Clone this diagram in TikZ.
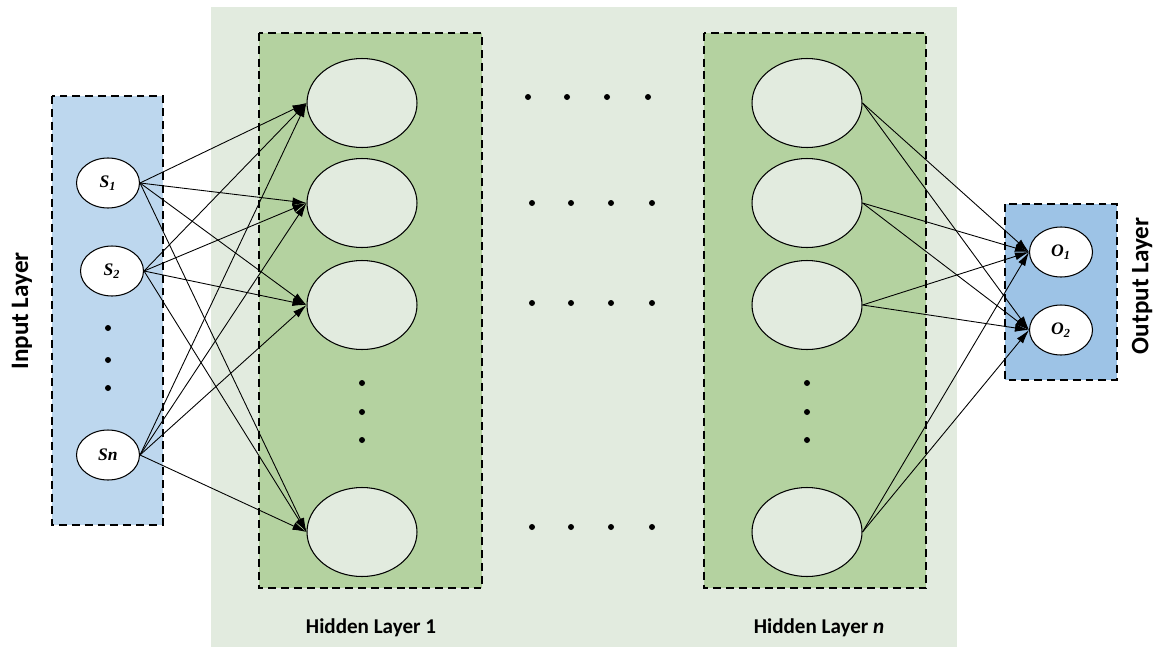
\documentclass[tikz,border=0pt]{standalone}
\usepackage{fontspec}
\setmainfont{Liberation Serif}
\newfontfamily\labelfont{Carlito}
\usetikzlibrary{arrows.meta,shapes.geometric}

\definecolor{panelgreen}{HTML}{E2EBDF}
\definecolor{hiddengreen}{HTML}{B4D2A0}
\definecolor{inputblue}{HTML}{BDD7EE}
\definecolor{outputblue}{HTML}{9DC3E6}

\tikzset{
  layerbox/.style={line width=1.1pt, dash pattern=on 4.5pt off 2.8pt},
  iounit/.style={ellipse, draw, fill=white, line width=0.6pt, minimum width=1.26cm, minimum height=1cm, inner sep=0pt, font=\fontsize{10}{12}\selectfont\bfseries\itshape},
  hiddenunit/.style={ellipse, draw, fill=panelgreen, line width=0.6pt, minimum width=2.2cm, minimum height=1.78cm, inner sep=0pt},
  conn/.style={-{Latex[length=8pt,width=4.5pt]}, line width=0.5pt},
  layertitle/.style={font=\labelfont\fontsize{14.3}{16}\selectfont\bfseries},
  hiddentitle/.style={font=\labelfont\fontsize{12}{14}\selectfont\bfseries}
}

\begin{document}
\begin{tikzpicture}[x=0.02cm,y=-0.02cm]
\def\dotr{0.06cm}
\useasboundingbox (0,0) rectangle (1156,649);

% panels
\fill[panelgreen] (211,7) rectangle (957,647);
\filldraw[fill=hiddengreen, layerbox] (259,33) rectangle (482,588);
\filldraw[fill=hiddengreen, layerbox] (704,33) rectangle (926,588);
\filldraw[fill=inputblue, layerbox] (52,96) rectangle (163,525);
\filldraw[fill=outputblue, layerbox] (1005,204) rectangle (1117,380);

% input layer
\node[iounit] (s1) at (108,183) {S\textsubscript{1}};
\node[iounit] (s2) at (112,271) {S\textsubscript{2}};
\node[iounit] (sn) at (108,455) {Sn};
\fill (108,328) circle[radius=\dotr];
\fill (108,360) circle[radius=\dotr];
\fill (108,388) circle[radius=\dotr];

% hidden layer 1
\node[hiddenunit] (ha1) at (362,103) {};
\node[hiddenunit] (ha2) at (362,203) {};
\node[hiddenunit] (ha3) at (362,305) {};
\node[hiddenunit] (ha5) at (362,532) {};
\fill (362,383) circle[radius=\dotr];
\fill (362,412) circle[radius=\dotr];
\fill (362,440) circle[radius=\dotr];

% hidden layer n
\node[hiddenunit] (hn1) at (807,103) {};
\node[hiddenunit] (hn2) at (807,203) {};
\node[hiddenunit] (hn3) at (807,305) {};
\node[hiddenunit] (hn5) at (807,532) {};
\fill (807,383) circle[radius=\dotr];
\fill (807,412) circle[radius=\dotr];
\fill (807,440) circle[radius=\dotr];

% dots between the hidden layers
\foreach \y/\xs in {97/0,203/4,303/4,527/4}{
  \fill (528+\xs,\y) circle[radius=\dotr];
  \fill (567+\xs,\y) circle[radius=\dotr];
  \fill (607+\xs,\y) circle[radius=\dotr];
  \fill (648+\xs,\y) circle[radius=\dotr];
}

% output layer
\node[iounit] (o1) at (1061,252) {O\textsubscript{1}};
\node[iounit] (o2) at (1061,330) {O\textsubscript{2}};

% input -> hidden 1
\draw[conn] (s1.east) -- (ha1.west);
\draw[conn] (s1.east) -- (ha2.west);
\draw[conn] (s1.east) -- (ha3.west);
\draw[conn] (s1.east) -- (ha5.west);
\draw[conn] (s2.east) -- (ha1.west);
\draw[conn] (s2.east) -- (ha2.west);
\draw[conn] (s2.east) -- (ha3.west);
\draw[conn] (s2.east) -- (ha5.west);
\draw[conn] (sn.east) -- (ha1.west);
\draw[conn] (sn.east) -- (ha2.west);
\draw[conn] (sn.east) -- (ha3.west);
\draw[conn] (sn.east) -- (ha5.west);

% hidden n -> output
\draw[conn] (hn1.east) -- (o1.west);
\draw[conn] (hn1.east) -- (o2.west);
\draw[conn] (hn2.east) -- (o1.west);
\draw[conn] (hn2.east) -- (o2.west);
\draw[conn] (hn3.east) -- (o1.west);
\draw[conn] (hn3.east) -- (o2.west);
\draw[conn] (hn5.east) -- (o1.west);
\draw[conn] (hn5.east) -- (o2.west);

% titles
\node[layertitle, rotate=90] (intitle) at (22,311) {Input Layer};
\node[layertitle, rotate=90] (outtitle) at (1142,286) {Output Layer};
\node[hiddentitle] (h1title) at (371,628) {Hidden Layer 1};
\node[hiddentitle] (hntitle) at (819,628) {Hidden Layer \textit{n}};

\end{tikzpicture}
\end{document}
